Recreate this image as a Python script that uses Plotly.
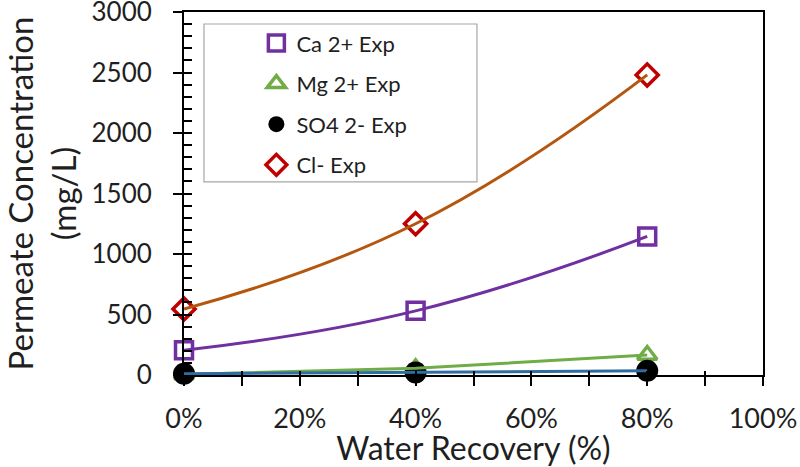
import plotly.graph_objects as go

recovery = [0.0, 0.4, 0.8]
ca = [205, 530, 1145]
mg = [5, 55, 165]
so4 = [10, 20, 35]
cl = [545, 1250, 2480]

names = ["Ca 2+ Exp", "Mg 2+ Exp", "SO4 2- Exp", "Cl- Exp"]
series = [ca, mg, so4, cl]
marker_syms = ["square-open", "triangle-up-open", "circle", "diamond-open"]
marker_cols = ["#7030A0", "#70AD47", "#000000", "#C00000"]
line_cols = ["#7030A0", "#70AD47", "#2E6DA4", "#B5560F"]

x_tickvals = [0, 0.1, 0.2, 0.3, 0.4, 0.5, 0.6, 0.7, 0.8, 0.9, 1.0]
x_ticktext = ["0%", "", "20%", "", "40%", "", "60%", "", "80%", "", "100%"]
y_tickvals = [0, 500, 1000, 1500, 2000, 2500, 3000]

FONT = "Lato, Open Sans, sans-serif"
TXT = "#1f1f1f"

fig = go.Figure()
for i, (name, ys, sym, mc) in enumerate(zip(names, series, marker_syms, marker_cols)):
    fig.add_trace(go.Scatter(
        x=recovery, y=ys, mode="markers", name=name, legendgroup=f"g{i}",
        marker=dict(symbol=sym, size=17 if sym != "circle" else 22, color=mc,
                    line=dict(width=3.5 if sym != "circle" else 0, color=mc)),
        cliponaxis=False,
    ))
for ys, lc, sh in zip(series, line_cols, ["spline", "linear", "linear", "spline"]):
    fig.add_trace(go.Scatter(
        x=recovery, y=ys, mode="lines", showlegend=False, hoverinfo="skip",
        line=dict(color=lc, width=3, shape=sh, smoothing=1.3),
        cliponaxis=False,
    ))
fig.add_trace(go.Scatter(x=[0.5], y=[-100], xaxis="x2", yaxis="y2", mode="markers",
                         marker=dict(opacity=0), showlegend=False, hoverinfo="skip"))

fig.update_layout(
    width=800, height=467,
    margin=dict(l=184, r=37, t=12, b=92, autoexpand=False),
    paper_bgcolor="white", plot_bgcolor="white",
    font=dict(family=FONT, color=TXT),
    showlegend=True,
    legend=dict(
        x=0.125, y=0.972, xanchor="left", yanchor="top",
        bgcolor="rgba(0,0,0,0)", borderwidth=0,
        font=dict(size=22, family=FONT, color=TXT),
        tracegroupgap=9, itemsizing="trace",
    ),
    shapes=[dict(type="rect", xref="paper", yref="paper",
                 x0=0.0345, x1=0.506, y0=0.532, y1=0.967,
                 line=dict(color="#a6a6a6", width=1.2), fillcolor="white", layer="below")],
    xaxis=dict(
        range=[0, 1], tickvals=x_tickvals, ticktext=x_ticktext,
        ticks="outside", ticklen=9, tickwidth=2, tickcolor="black",
        showline=True, linecolor="black", linewidth=2, mirror=True,
        showgrid=False, zeroline=False, automargin=False,
        ticklabelstandoff=10, ticklabeloverflow="allow",
        tickfont=dict(size=27, family=FONT, color=TXT),
        title=dict(text="Water Recovery (%)", font=dict(size=32, family=FONT, color=TXT), standoff=6),
    ),
    yaxis=dict(
        range=[0, 3000], tickvals=y_tickvals,
        ticks="outside", ticklen=9, tickwidth=2, tickcolor="black",
        showline=True, linecolor="black", linewidth=2, mirror=True,
        showgrid=False, zeroline=False, automargin=False,
        ticklabelstandoff=16, ticklabeloverflow="allow",
        tickfont=dict(size=26, family=FONT, color=TXT),
        title=dict(text="Permeate Concentration<br>(mg/L)", font=dict(size=33, family=FONT, color=TXT), standoff=17),
    ),
    xaxis2=dict(range=[0, 1], overlaying="x", anchor="y2", tickvals=x_tickvals, ticks="inside", ticklen=4,
                tickwidth=2, tickcolor="black", showticklabels=False, showgrid=False, zeroline=False,
                side="bottom", showline=False),
    yaxis2=dict(range=[0, 3000], overlaying="y", anchor="x2", dtick=100, ticks="inside", ticklen=8,
                tickwidth=2, tickcolor="black", showticklabels=False, showgrid=False, zeroline=False,
                side="left", showline=False),
)

fig.write_html("out.html", post_script="document.body.style.margin='0';",
               config={"displayModeBar": False})
